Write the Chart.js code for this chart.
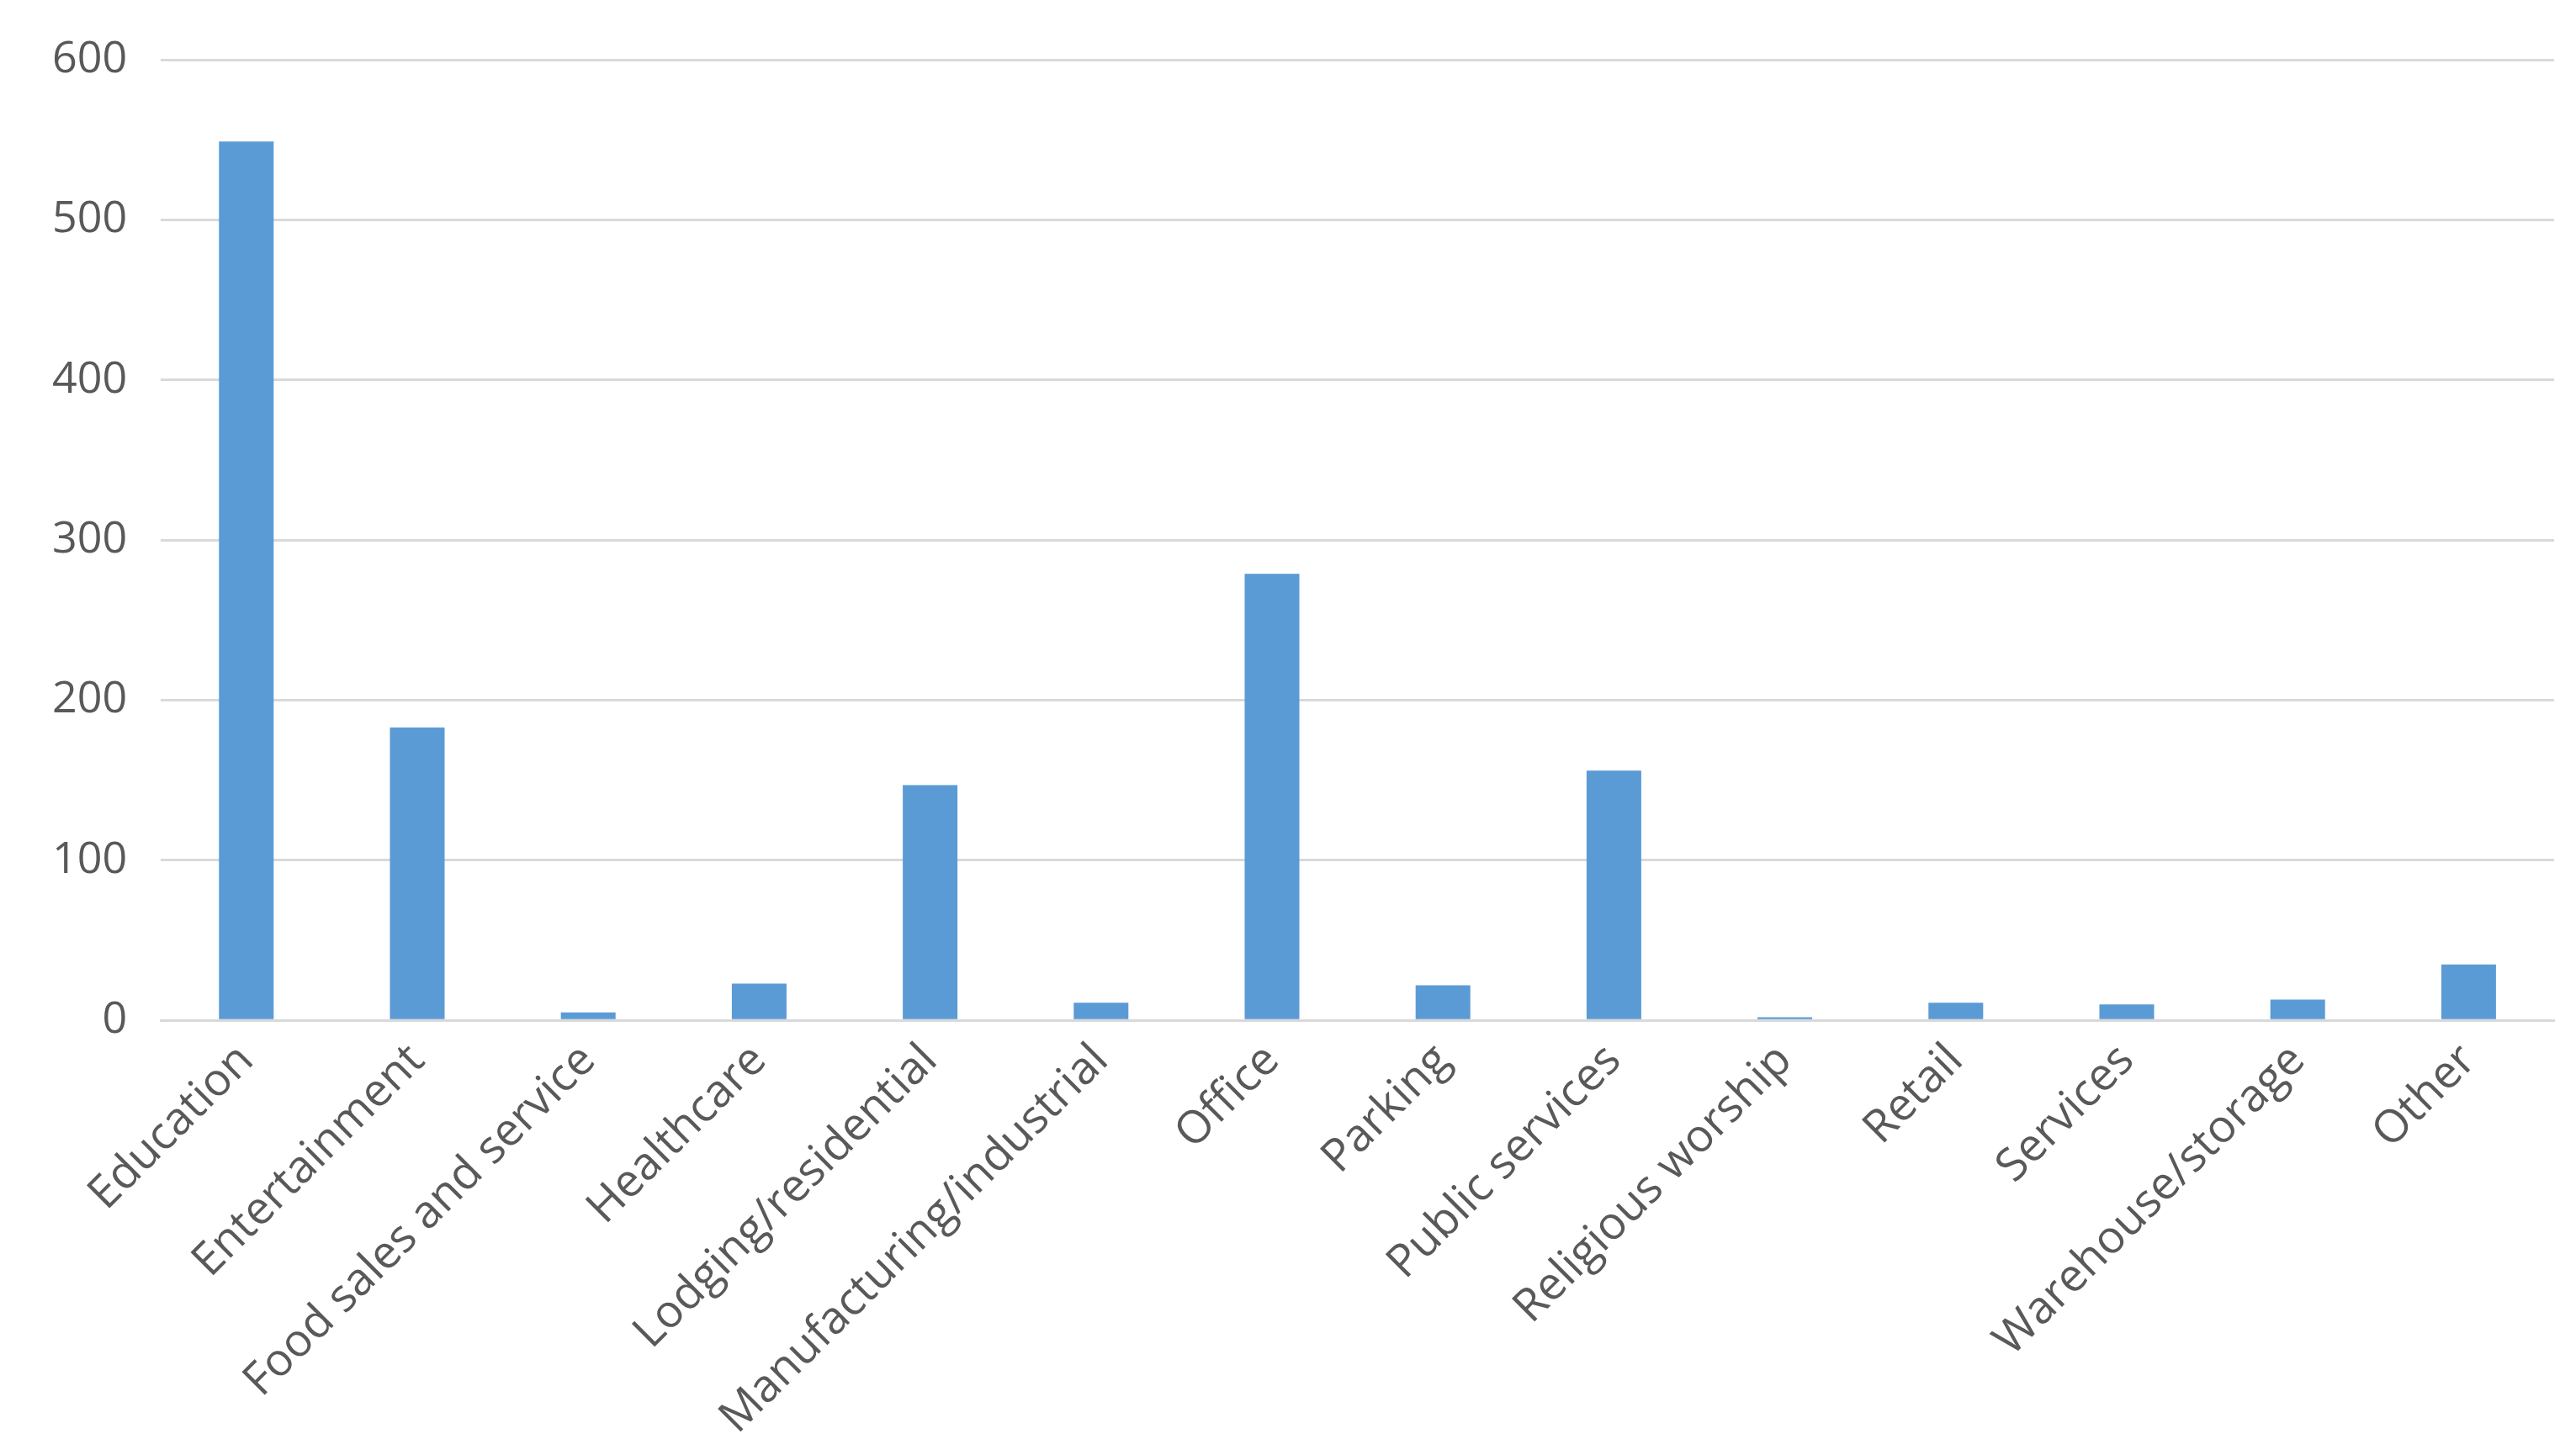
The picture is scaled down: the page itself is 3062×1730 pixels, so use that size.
<!DOCTYPE html>
<html>
<head>
<meta charset="utf-8">
<script src="https://cdn.jsdelivr.net/npm/chart.js@4"></script>
<style>
  body { margin: 0; background: #fff; }
  #wrap { width: 3062px; height: 1730px; }
</style>
</head>
<body>
<div id="wrap"><canvas id="chart" width="3062" height="1730"></canvas></div>
<script>
const categories = ['Education', 'Entertainment', 'Food sales and service', 'Healthcare',
    'Lodging/residential', 'Manufacturing/industrial', 'Office', 'Parking', 'Public services',
    'Religious worship', 'Retail', 'Services', 'Warehouse/storage', 'Other'];
const counts = [549, 183, 5, 23, 147, 11, 279, 22, 156, 2, 11, 10, 13, 35];

new Chart(document.getElementById('chart'), {
    type: 'bar',
    data: {
        labels: categories,
        datasets: [{
            data: counts,
            backgroundColor: '#5B9BD5',
            categoryPercentage: 1,
            barPercentage: 0.32
        }]
    },
    options: {
        responsive: false,
        devicePixelRatio: 1,
        animation: false,
        layout: { padding: { left: 22, right: 26, top: 40, bottom: 4 } },
        plugins: { legend: { display: false }, tooltip: { enabled: false } },
        scales: {
            x: {
                grid: { display: false },
                border: { color: '#d9d9d9', width: 3 },
                ticks: {
                    color: '#595959',
                    font: { family: 'Open Sans', size: 54 },
                    minRotation: 45,
                    maxRotation: 45,
                    padding: 8
                }
            },
            y: {
                min: 0,
                max: 600,
                border: { display: false },
                grid: { color: '#d9d9d9', lineWidth: 3, drawTicks: false },
                ticks: {
                    stepSize: 100,
                    color: '#595959',
                    font: { family: 'Open Sans', size: 52 },
                    padding: 40
                }
            }
        }
    }
});
</script>
</body>
</html>
